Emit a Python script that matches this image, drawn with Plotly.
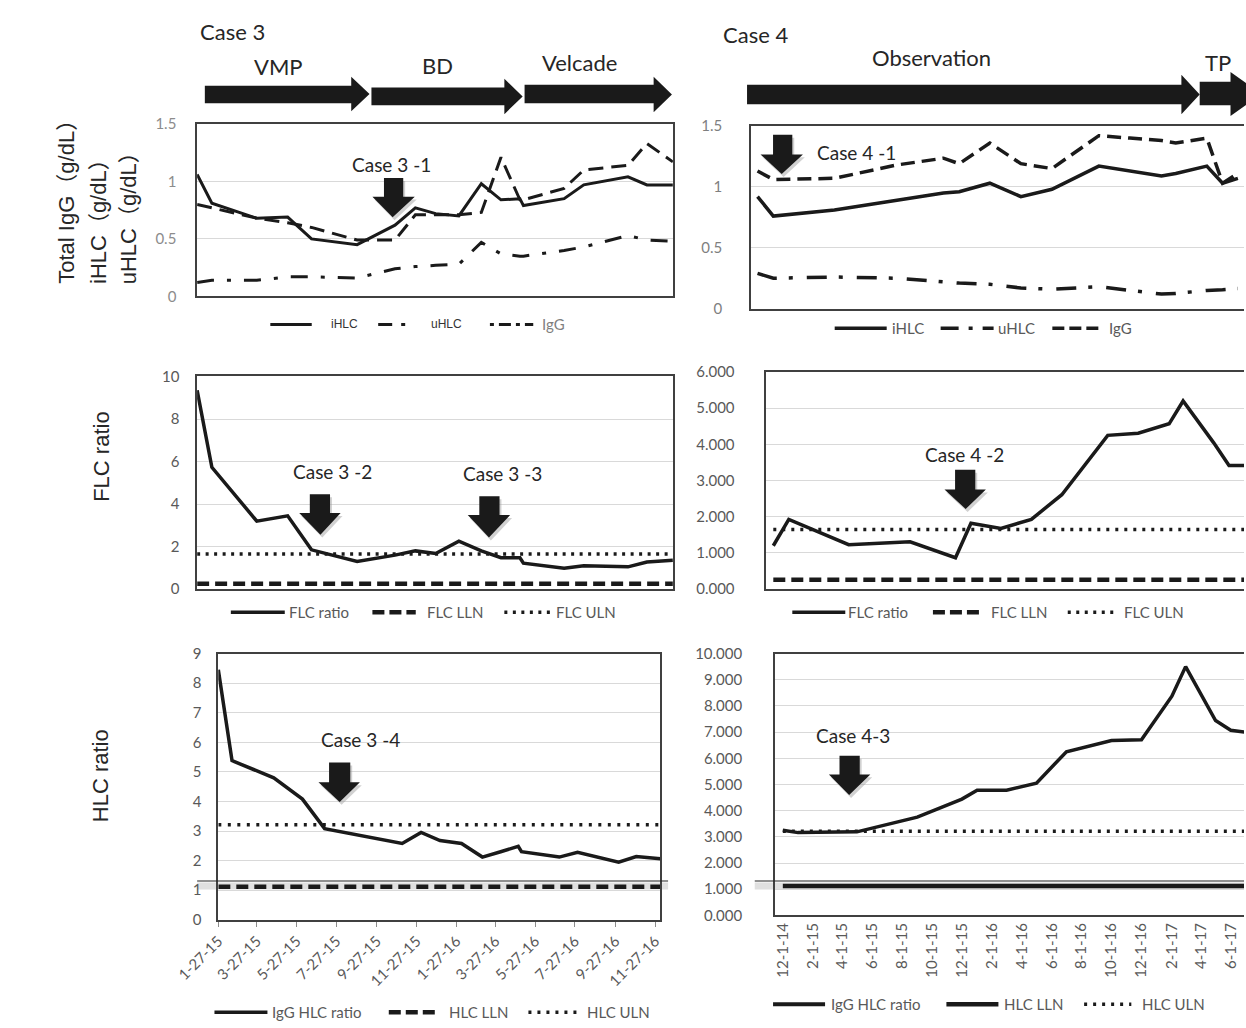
import plotly.graph_objects as go

W, H = 1246, 1028


def px(x):
    return x / W


def py(y):
    return 1 - y / H


# ---------------- Case 3 (measurement dates) ----------------
case3_dates = ["2015-01-27", "2015-02-17", "2015-04-22", "2015-06-05", "2015-07-09",
               "2015-09-12", "2015-11-05", "2015-12-04", "2016-01-02", "2016-02-04",
               "2016-03-07", "2016-04-04", "2016-05-01", "2016-05-06", "2016-07-03",
               "2016-07-31", "2016-10-02", "2016-10-29", "2016-12-05"]
case3_ihlc = [1.06, 0.81, 0.68, 0.69, 0.50, 0.45, 0.62, 0.77, 0.72, 0.70,
              0.98, 0.84, 0.85, 0.79, 0.85, 0.97, 1.04, 0.97, 0.97]
case3_uhlc = [0.12, 0.14, 0.14, 0.17, 0.17, 0.16, 0.24, 0.26, 0.27, 0.28,
              0.47, 0.37, 0.35, 0.35, 0.40, 0.43, 0.53, 0.49, 0.48]
case3_igg = [0.80, 0.77, 0.68, 0.64, 0.60, 0.49, 0.49, 0.71, 0.71, 0.71,
             0.73, 1.21, 0.84, 0.84, 0.94, 1.10, 1.14, 1.33, 1.17]
case3_flc_ratio = [9.35, 5.73, 3.20, 3.45, 1.85, 1.30, 1.60, 1.80, 1.68, 2.26,
                   1.80, 1.48, 1.48, 1.22, 0.98, 1.10, 1.05, 1.28, 1.36]
case3_hlc_ratio = [8.45, 5.38, 4.80, 4.08, 3.08, 2.82, 2.58, 2.95, 2.68, 2.58,
                   2.12, 2.30, 2.48, 2.30, 2.12, 2.28, 1.95, 2.14, 2.06]

# ---------------- Case 4 (monthly visits) ----------------
case4_dates = ["2014-12-01", "2015-01-01", "2015-05-01", "2015-09-01", "2015-12-01",
               "2016-01-01", "2016-03-01", "2016-05-01", "2016-07-01", "2016-10-01",
               "2016-12-01", "2017-02-01", "2017-03-01", "2017-05-01", "2017-06-01",
               "2017-07-01"]
case4_ihlc = [0.92, 0.76, 0.81, 0.89, 0.95, 0.96, 1.03, 0.92, 0.98, 1.17,
              1.13, 1.09, 1.11, 1.17, 1.03, 1.07]
case4_uhlc = [0.29, 0.25, 0.26, 0.25, 0.22, 0.21, 0.20, 0.17, 0.16, 0.18,
              0.15, 0.12, 0.125, 0.15, 0.155, 0.165]
case4_igg = [1.13, 1.06, 1.07, 1.18, 1.235, 1.19, 1.36, 1.19, 1.15, 1.42,
             1.40, 1.38, 1.36, 1.40, 1.03, 1.11]
case4_flc_ratio = [1.20, 1.93, 1.23, 1.31, 0.87, 1.82, 1.68, 1.93, 2.61, 4.25,
                   4.31, 4.57, 5.20, 4.05, 3.42, 3.42]
case4_hlc_ratio = [3.25, 3.16, 3.19, 3.75, 4.44, 4.78, 4.78, 5.05, 6.25, 6.68,
                   6.71, 8.37, 9.50, 7.44, 7.07, 7.00]

# Reference limits
FLC_LLN, FLC_ULN = 0.26, 1.65
HLC_LLN, HLC_ULN = 1.12, 3.21

INK = "#1a1a1a"
TXT = "#262626"
GRID = "#d9d9d9"
FRAME = "#404040"
FONT = "Lato"
SANS = "Liberation Sans, Noto Sans CJK JP"

fig = go.Figure()


def add_line(x, y, ax, width, dash="solid"):
    fig.add_trace(go.Scatter(x=x, y=y, xaxis=ax[0], yaxis=ax[1], mode="lines",
                             line=dict(color=INK, width=width, dash=dash),
                             showlegend=False, hoverinfo="x+y"))


def add_limit(dates, value, ax, width, dash="solid"):
    add_line([dates[0], dates[-1]], [value, value], ax, width, dash)


# Top row: immunoglobulin levels
add_line(case3_dates, case3_uhlc, ("x", "y"), 3, "17px,13px,4px,13px")
add_line(case3_dates, case3_igg, ("x", "y"), 3, "15px,8px")
add_line(case3_dates, case3_ihlc, ("x", "y"), 3)

add_line(case4_dates, case4_uhlc, ("x2", "y2"), 3.5, "20px,12px,4px,14px")
add_line(case4_dates, case4_igg, ("x2", "y2"), 3.5, "14px,7px")
add_line(case4_dates, case4_ihlc, ("x2", "y2"), 3.5)

# Middle row: FLC ratio
add_limit(case3_dates, FLC_LLN, ("x3", "y3"), 4.5, "12px,6px")
add_limit(case3_dates, FLC_ULN, ("x3", "y3"), 3.5, "3px,5.5px")
add_line(case3_dates, case3_flc_ratio, ("x3", "y3"), 3.5)

add_limit(case4_dates, FLC_LLN, ("x4", "y4"), 4.5, "12px,6px")
add_limit(case4_dates, FLC_ULN, ("x4", "y4"), 3.5, "3px,6px")
add_line(case4_dates, case4_flc_ratio, ("x4", "y4"), 3.5)

# Bottom row: HLC ratio
add_limit(case3_dates, HLC_LLN, ("x5", "y5"), 4.5, "12px,6px")
add_limit(case3_dates, HLC_ULN, ("x5", "y5"), 3.5, "3px,6.5px")
add_line(case3_dates, case3_hlc_ratio, ("x5", "y5"), 3.5)

add_limit(case4_dates, HLC_LLN, ("x6", "y6"), 4.5)
add_limit(case4_dates, HLC_ULN, ("x6", "y6"), 3.5, "3px,6px")
add_line(case4_dates, case4_hlc_ratio, ("x6", "y6"), 3.5)


def xaxis(x0, x1, rng, labels=False, fmt=None, tick0=None, angle=0):
    d = dict(type="date", domain=[px(x0), min(1.0, px(x1))], range=rng,
             showgrid=False, zeroline=False,
             showline=True, linecolor=FRAME, linewidth=1.5, mirror=True,
             showticklabels=labels, fixedrange=True)
    if labels:
        d.update(tickformat=fmt, tick0=tick0, dtick="M2", tickangle=angle,
                 tickfont=dict(family=FONT, size=15, color="#595959"))
    return d


def yaxis(y0, y1, rng, dtick, standoff, fmt=None, mirror=True, color="#595959", size=15):
    d = dict(domain=[py(y1), py(y0)], range=rng, dtick=dtick, tick0=0,
             showgrid=True, gridcolor=GRID, gridwidth=1, zeroline=False,
             showline=True, linecolor=FRAME, linewidth=1.5, mirror=mirror,
             ticks="", ticklabelstandoff=standoff, fixedrange=True,
             tickfont=dict(family=FONT, size=size, color=color))
    if fmt:
        d["tickformat"] = fmt
    return d


c3_range = ["2015-01-27", "2016-12-05"]

layout_axes = dict(
    xaxis=xaxis(159, 653, c3_range),
    yaxis=yaxis(116, 291.5, [0, 1.5], 0.5, 16, color="#8c8c8c"),
    xaxis2=xaxis(734, 1246, ["2014-11-18", "2017-07-13"]),
    yaxis2=yaxis(118, 304, [0, 1.5], 0.5, 24, mirror=False, color="#7f7f7f"),
    xaxis3=xaxis(159, 653, c3_range),
    yaxis3=yaxis(373, 589.5, [0, 10], 2, 13),
    xaxis4=xaxis(750, 1246, ["2014-11-17", "2017-07-01"]),
    yaxis4=yaxis(368.5, 589.5, [0, 6], 1, 27, fmt=".3f", mirror=False),
    xaxis5=xaxis(181, 640, c3_range, labels=True,
                 fmt="%-m-%-d-%y", tick0="2015-01-27", angle=-45),
    yaxis5=yaxis(655, 926, [0, 9], 1, 12),
    xaxis6=xaxis(759, 1246, ["2014-11-15", "2017-06-28"], labels=True,
                 fmt="%-m-%-d-%y", tick0="2014-12-01", angle=-90),
    yaxis6=yaxis(655, 921.5, [0, 10], 1, 28, fmt=".3f", mirror=False),
)
for i in range(1, 7):
    k = "" if i == 1 else str(i)
    layout_axes["xaxis" + k]["anchor"] = "y" + k
    layout_axes["yaxis" + k]["anchor"] = "x" + k
layout_axes["xaxis5"].update(ticks="outside", ticklen=5, tickcolor="#8c8c8c")

shapes = []
annotations = []


def poly(points, color=INK, opacity=1.0):
    path = "M " + " L ".join(f"{px(x):.5f},{py(y):.5f}" for x, y in points) + " Z"
    shapes.append(dict(type="path", xref="paper", yref="paper", path=path,
                       fillcolor=color, line=dict(width=0), opacity=opacity, layer="above"))


def text(s, x, y, size=18, xanchor="center", color=TXT, family=FONT, angle=0, yanchor="middle"):
    annotations.append(dict(text=s, x=px(x), y=py(y), xref="paper", yref="paper",
                            xanchor=xanchor, yanchor=yanchor, showarrow=False,
                            textangle=angle, font=dict(family=family, size=size, color=color)))


# Treatment timelines (right-pointing block arrows)
timeline = [
    ("VMP", 244, 58, 167, 319, 338, 77, 95, 68, 103),
    ("BD", 409, 56, 340, 478, 497, 79, 97, 70, 106),
    ("Velcade", 556, 53, 499, 633, 652, 76, 95, 68, 104),
    ("Observation", 922, 48, 730, 1181, 1200, 76, 96, 66, 106),
    ("TP", 1219, 53, 1200, 1232, 1264, 73, 97, 63, 108),
]
for label, lx, ly, b0, hx, tip, by0, by1, hy0, hy1 in timeline:
    poly([(b0, by0), (hx, by0), (hx, hy0), (tip, (hy0 + hy1) / 2), (hx, hy1), (hx, by1), (b0, by1)])
    text(label, lx, ly, size=22)

text("Case 3", 160, 22, size=22, xanchor="left")
text("Case 4", 703, 25, size=22, xanchor="left")

# Event markers (down-pointing block arrows with a soft shadow)
markers = [
    ("Case 3 -1", 361, 157, 353, 373, 171, 190, 341, 385, 362, 211),
    ("Case 4 -1", 844, 145, 757, 777, 127, 147, 744, 788, 766, 167),
    ("Case 3 -2", 300, 470, 276, 297, 493, 512, 265, 308, 287, 534),
    ("Case 3 -3", 476, 472, 452, 473, 495, 514, 440, 484, 462, 537),
    ("Case 4 -2", 956, 452, 946, 967, 468, 488, 935, 978, 957, 508),
    ("Case 3 -4", 329, 743, 296, 318, 766, 786, 285, 328, 307, 806),
    ("Case 4-3", 840, 738, 826, 847, 759, 778, 815, 858, 836, 799),
]
for label, tx, ty, s0, s1, st, hy, h0, h1, tipx, tipy in markers:
    pts = [(s0, st), (s1, st), (s1, hy), (h1, hy), (tipx, tipy), (h0, hy), (s0, hy)]
    poly([(x + 2, y + 3) for x, y in pts], color="#9a9a9a", opacity=0.45)
    poly(pts)
    text(label, tx, ty, size=19)

# Legends drawn beneath each panel
legends = [
    (320, [(235, 278, 3, "solid", "iHLC", 296, SANS, 12, "#333333"),
           (347, 382, 3, "14px,9px,4px,9px", "uHLC", 400, SANS, 12, "#333333"),
           (463, 508, 3, "4px,5px,12px,5px", "IgG", 515, FONT, 15, "#7f7f7f")]),
    (324, [(821, 875, 3.5, "solid", "iHLC", 878, FONT, 15, "#595959"),
           (931, 986, 3.5, "18px,10px,4px,10px", "uHLC", 988, FONT, 15, "#595959"),
           (1047, 1096, 3.5, "12px,5px", "IgG", 1104, FONT, 15, "#595959")]),
    (613, [(194, 250, 3.5, "solid", "FLC ratio", 252, FONT, 15, "#595959"),
           (341, 386, 4.5, "12px,5px", "FLC LLN", 396, FONT, 15, "#595959"),
           (478, 526, 3.5, "3px,5.5px", "FLC ULN", 530, FONT, 15, "#595959")]),
    (613, [(777, 832, 3.5, "solid", "FLC ratio", 833, FONT, 15, "#595959"),
           (923, 972, 4.5, "12px,5px", "FLC LLN", 981, FONT, 15, "#595959"),
           (1063, 1112, 3.5, "3px,5.5px", "FLC ULN", 1119, FONT, 15, "#595959")]),
    (1020, [(177, 232, 3.5, "solid", "IgG HLC ratio", 235, FONT, 15, "#595959"),
            (358, 407, 4.5, "12px,5px", "HLC LLN", 418, FONT, 15, "#595959"),
            (503, 555, 3.5, "3px,6px", "HLC ULN", 562, FONT, 15, "#595959")]),
    (1012, [(757, 811, 4, "solid", "IgG HLC ratio", 815, FONT, 15, "#595959"),
            (937, 991, 4.5, "solid", "HLC LLN", 995, FONT, 15, "#595959"),
            (1080, 1129, 3.5, "3px,6px", "HLC ULN", 1138, FONT, 15, "#595959")]),
]
for ly, items in legends:
    for x0, x1, w, dash, label, tx, fam, size, col in items:
        shapes.append(dict(type="line", xref="paper", yref="paper",
                           x0=px(x0), x1=px(x1), y0=py(ly), y1=py(ly),
                           line=dict(color=INK, width=w, dash=dash)))
        text(label, tx, ly, size=size, xanchor="left", color=col, family=fam)

# Thin rule crossing the bottom panels, with a soft grey halo beneath the traces
for x0, x1 in [(159, 648), (738, 1246)]:
    shapes.append(dict(type="line", xref="paper", yref="paper", x0=px(x0), x1=px(x1),
                       y0=py(891.5), y1=py(891.5), line=dict(color="#d4d4d4", width=7),
                       opacity=0.7, layer="below"))
    shapes.append(dict(type="line", xref="paper", yref="paper", x0=px(x0), x1=px(x1),
                       y0=py(886.5), y1=py(886.5), line=dict(color="#222222", width=1.2),
                       layer="above"))

# Axis titles
text("Total IgG（g/dL）", 23, 281, size=22, family=SANS, angle=-90, yanchor="bottom")
text("iHLC（g/dL）", 56, 281, size=22, family=SANS, angle=-90, yanchor="bottom")
text("uHLC（g/dL）", 88, 281, size=22, family=SANS, angle=-90, yanchor="bottom")
text("FLC ratio", 59, 455, size=22, family=SANS, angle=-90)
text("HLC ratio", 59, 779, size=22, family=SANS, angle=-90)

fig.update_layout(
    width=W, height=H, autosize=False,
    margin=dict(l=0, r=0, t=0, b=0, pad=0),
    paper_bgcolor="white", plot_bgcolor="rgba(0,0,0,0)",
    font=dict(family=FONT, color=TXT),
    showlegend=False,
    shapes=shapes, annotations=annotations,
    **layout_axes,
)

fig.write_html("out.html", include_plotlyjs=True, config={"displayModeBar": False})
